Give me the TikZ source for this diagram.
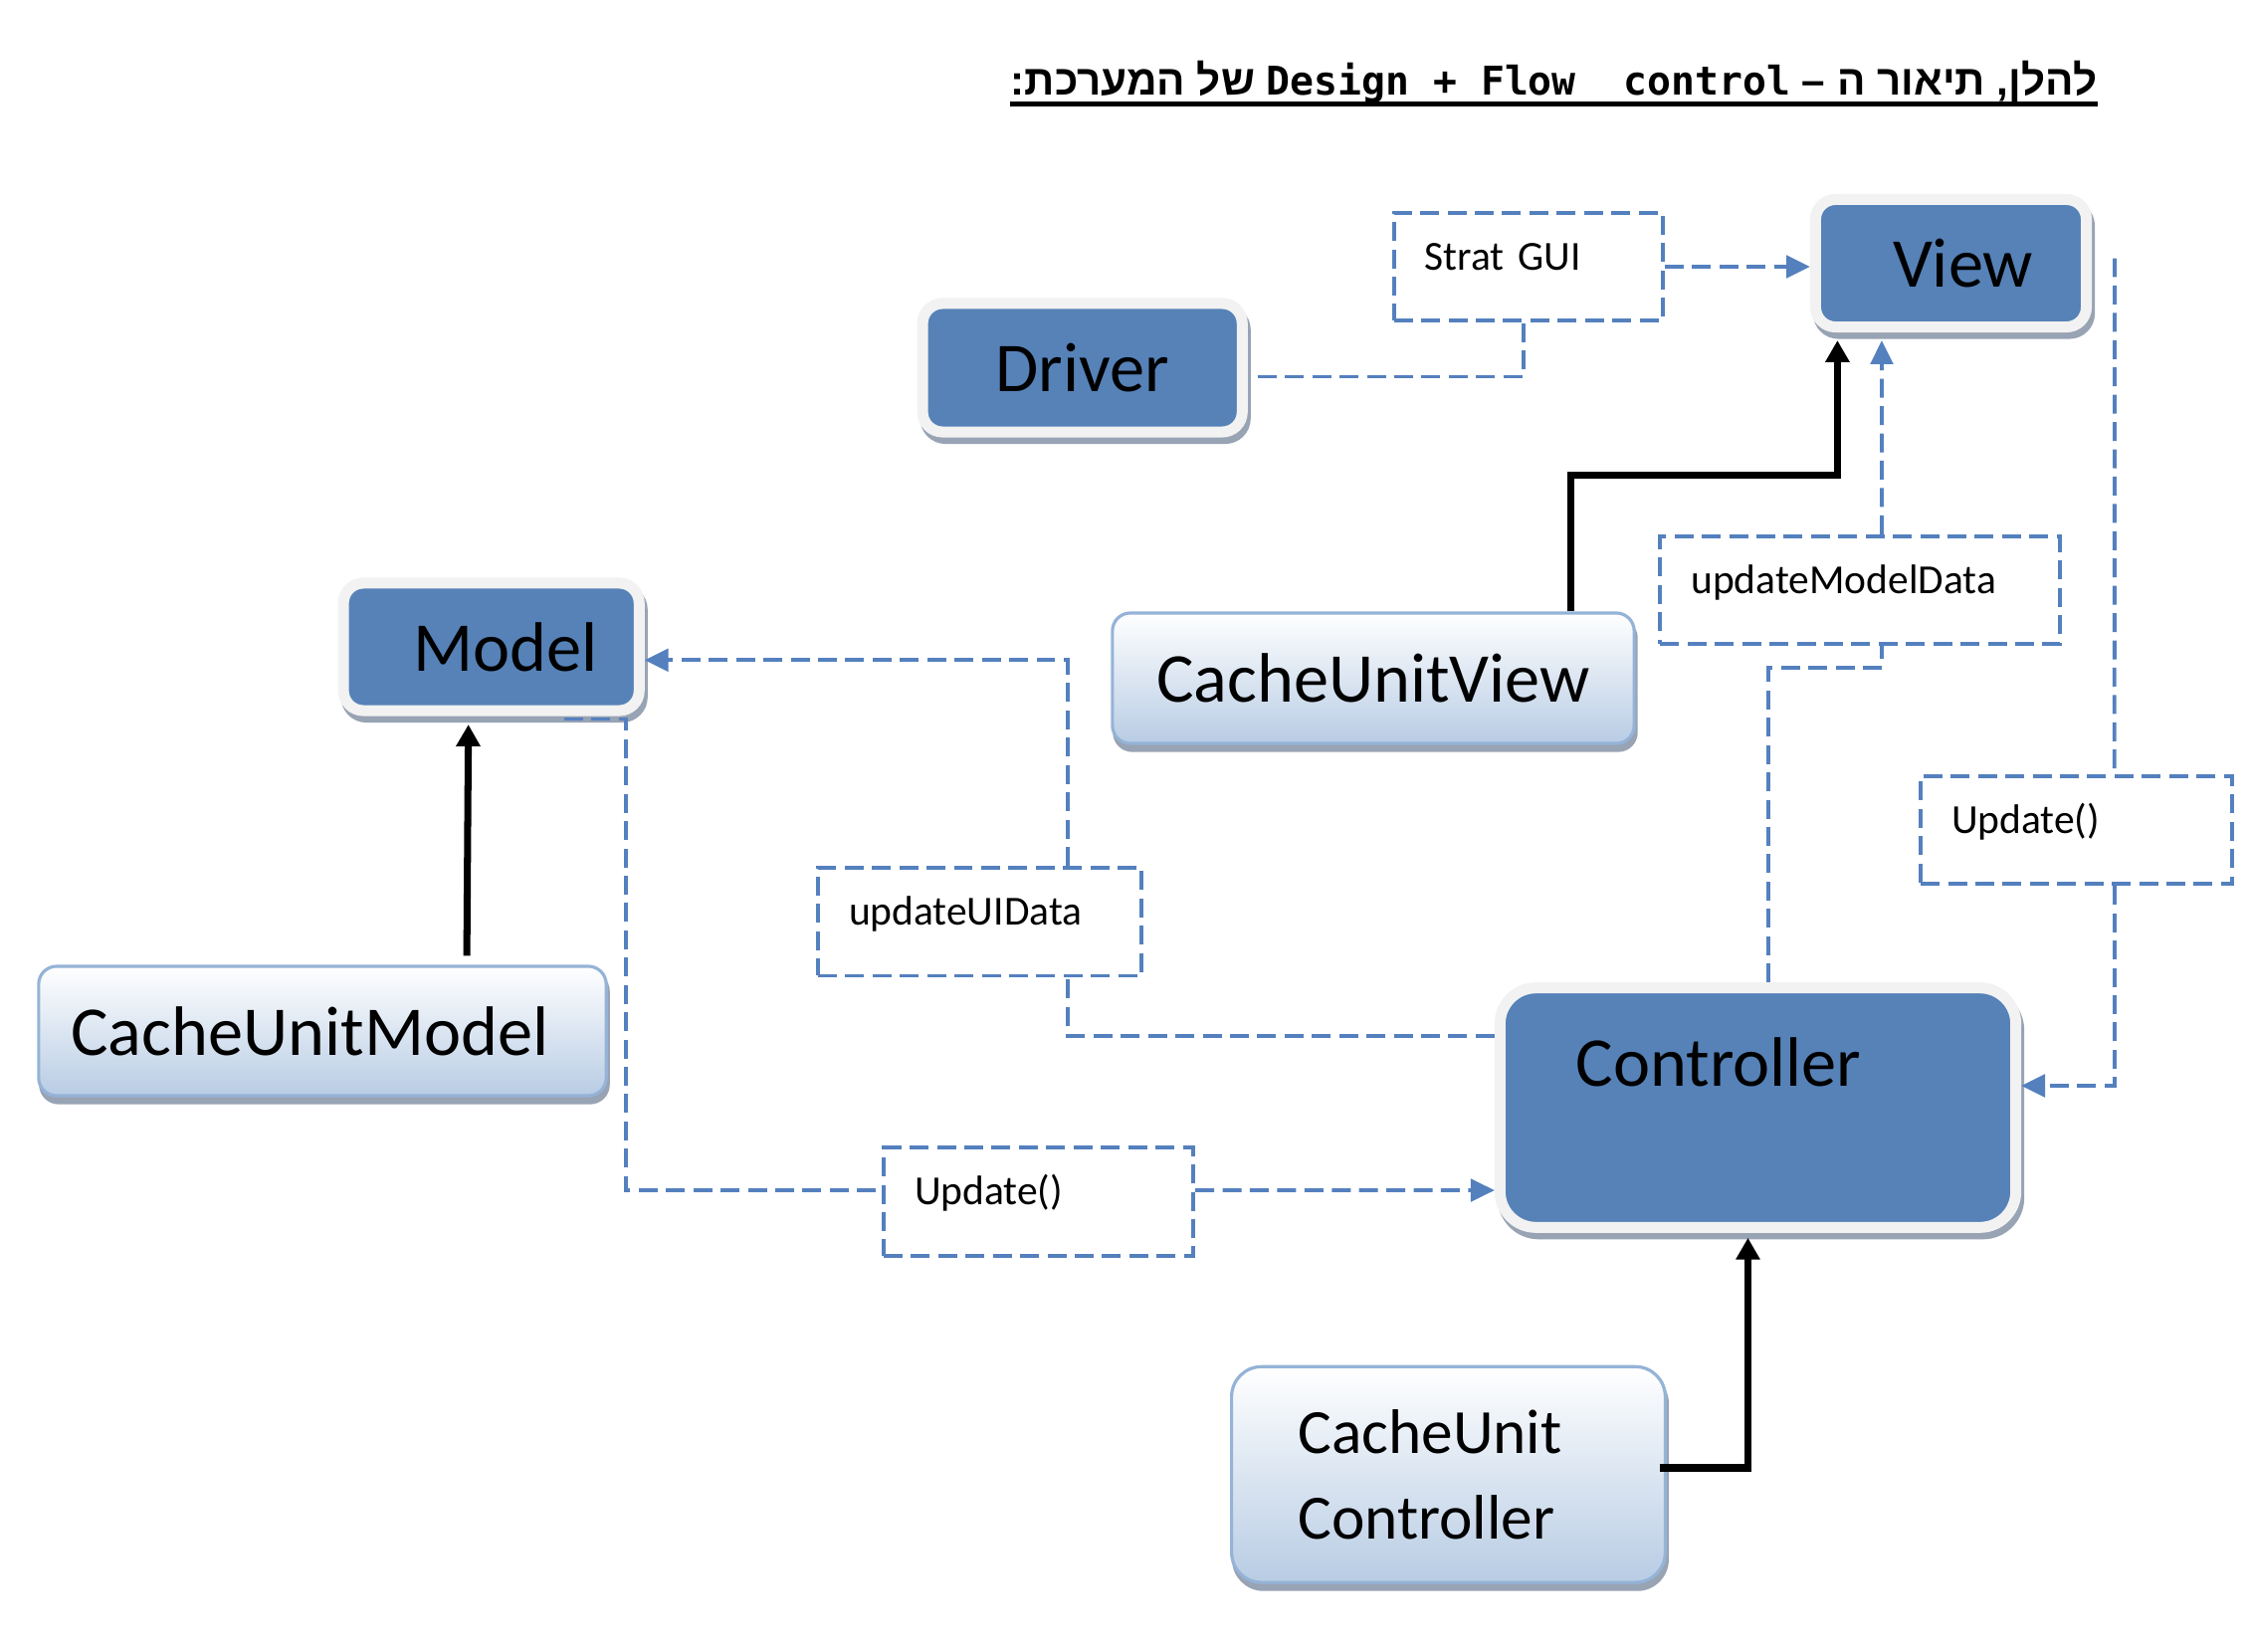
\documentclass[tikz,border=0pt]{standalone}
\usepackage{fontspec}
\setmainfont{Carlito}
\newfontfamily\hebfont[Script=Hebrew]{Liberation Sans}
\newfontfamily\codefont{DejaVu Sans Mono}
\TeXXeTstate=1
\usetikzlibrary{arrows.meta,shadows}
\definecolor{boxblue}{RGB}{86,130,184}
\definecolor{rimgray}{RGB}{242,242,242}
\definecolor{shadegray}{RGB}{152,163,180}
\definecolor{paleblue}{RGB}{184,204,228}
\definecolor{edgeblue}{RGB}{149,179,215}
\definecolor{dashblue}{RGB}{84,128,190}
\tikzset{
  bluebox/.style={draw=rimgray, line width=0.11cm, fill=boxblue, rounded corners=0.2cm,
    font=\fontsize{20}{24}\selectfont,
    drop shadow={shadow xshift=0.03cm, shadow yshift=-0.065cm, fill=shadegray, draw=shadegray, line width=0.11cm, opacity=1}},
  palebox/.style={draw=edgeblue, line width=0.9pt, top color=white, bottom color=paleblue, rounded corners=0.18cm,
    font=\fontsize{20}{24.2}\selectfont,
    drop shadow={shadow xshift=0.02cm, shadow yshift=-0.07cm, fill=shadegray, draw=shadegray, line width=0.9pt, opacity=1}},
  callbox/.style={draw=dashblue, line width=1.1pt, dash pattern=on 5.4pt off 2.4pt,
    font=\fontsize{11.8}{14}\selectfont, inner xsep=0.31cm, inner ysep=0pt,
    text height=0.575cm, text depth=0.51cm, align=left},
  flow/.style={dashblue, line width=1.1pt, dash pattern=on 5.4pt off 2.4pt},
  flowarrow/.style={flow, -{Triangle[length=6.8pt,width=6.4pt]}},
  inherit/.style={line width=2pt, -{Triangle[length=6.2pt,width=6.6pt]}},
}
\begin{document}
\begin{tikzpicture}[x=0.01cm,y=-0.01cm]
  \fill[white] (0,0) rectangle (2262,1660);
  \useasboundingbox (0,0) rectangle (2262,1660);

  \node[anchor=base east,inner sep=0pt,font=\fontsize{12}{14}\selectfont\bfseries] (title) at (2108,95)
    {\hebfont\beginR להלן, תיאור ה – \beginL{\codefont\fontsize{11.3}{14}\selectfont Design + Flow\ \ control}\endL{} של המערכת:\endR};
  \draw[line width=1.3pt] ([yshift=-0.095cm]title.base west) -- ([yshift=-0.095cm]title.base east);

  % main parts
  \node[bluebox,minimum width=2.72cm,minimum height=1.28cm] (view) at (1960.5,264.5) {\hspace*{0.24cm}View};
  \node[bluebox,minimum width=3.21cm,minimum height=1.29cm] (driver) at (1087.7,369.5) {Driver};
  \node[bluebox,minimum width=2.97cm,minimum height=1.28cm] (model) at (493.7,650) {\hspace*{0.29cm}Model};
  \node[bluebox,minimum width=5.18cm,inner ysep=0pt,text height=0.99cm,text depth=1.415cm,rounded corners=0.36cm] (ctrl) at (1766.5,1113) {Controller\hspace*{0.79cm}};

  \node[palebox,minimum width=5.24cm,minimum height=1.31cm] (cuv) at (1380,681.5) {CacheUnitView};
  \node[palebox,minimum width=5.70cm,minimum height=1.30cm] (cumodel) at (324,1036) {CacheUnitModel\hspace*{0.25cm}};
  \node[palebox,minimum width=4.355cm,minimum height=2.167cm,text width=3.02cm,rounded corners=0.3cm,align=left,
    font=\fontsize{18}{24.2}\selectfont] (cuc) at (1455.5,1481.7) {CacheUnit\\Controller};

  % calls
  \node[callbox,text width=2.08cm] (strat) at (1535.8,268) {Strat GUI};
  \node[callbox,text width=3.39cm] (updMD) at (1869,593) {updateModelData};
  \node[callbox,text width=2.51cm] (updR) at (2086.7,834) {Update()};
  \node[callbox,text width=2.63cm] (updUI) at (984.6,926.2) {updateUIData};
  \node[callbox,text width=2.49cm] (updB) at (1043.6,1207.7) {Update()};

  \draw[flow] ([xshift=0.1cm,yshift=-0.09cm]driver.east) -| ([xshift=-0.05cm]strat.south);
  \draw[flowarrow] (strat.east) -- (strat.east -| view.west);

  \draw[flow] ([xshift=0.23cm,yshift=0.05cm]view.east) -- ([xshift=0.38cm]updR.north);
  \draw[flowarrow] ([xshift=0.38cm]updR.south) |- ([yshift=0.22cm]ctrl.east);

  \draw[flow] ([xshift=0.105cm]ctrl.north) |- ([xshift=0.22cm,yshift=-0.215cm]updMD.south) -- ([xshift=0.22cm]updMD.south);
  \draw[flowarrow] ([xshift=0.22cm]updMD.north) -- ([xshift=-0.695cm,yshift=-0.08cm]view.south);

  \draw[flow] ([yshift=0.72cm]ctrl.west) -| ([xshift=0.886cm]updUI.south);
  \draw[flowarrow] ([xshift=0.886cm]updUI.north) |- ([yshift=-0.133cm]model.east);

  \draw[flow] ([xshift=0.73cm,yshift=-0.03cm]model.south) -- ++(0.62cm,0) |- ([yshift=0.117cm]updB.west);
  \draw[flowarrow] ([yshift=0.117cm]updB.east) -- ([yshift=-0.83cm]ctrl.west);

  % inheritance
  \draw[inherit] ([xshift=1.45cm,yshift=0.09cm]cumodel.north) -- ([xshift=-0.23cm,yshift=-0.085cm]model.south);
  \draw[inherit] ([xshift=1.98cm]cuv.north) -- ++(0,1.37cm) -| ([xshift=-1.14cm,yshift=-0.08cm]view.south);
  \draw[inherit] ([xshift=-0.07cm,yshift=0.067cm]cuc.east) -| ([xshift=-0.1cm,yshift=-0.05cm]ctrl.south);
\end{tikzpicture}
\end{document}
